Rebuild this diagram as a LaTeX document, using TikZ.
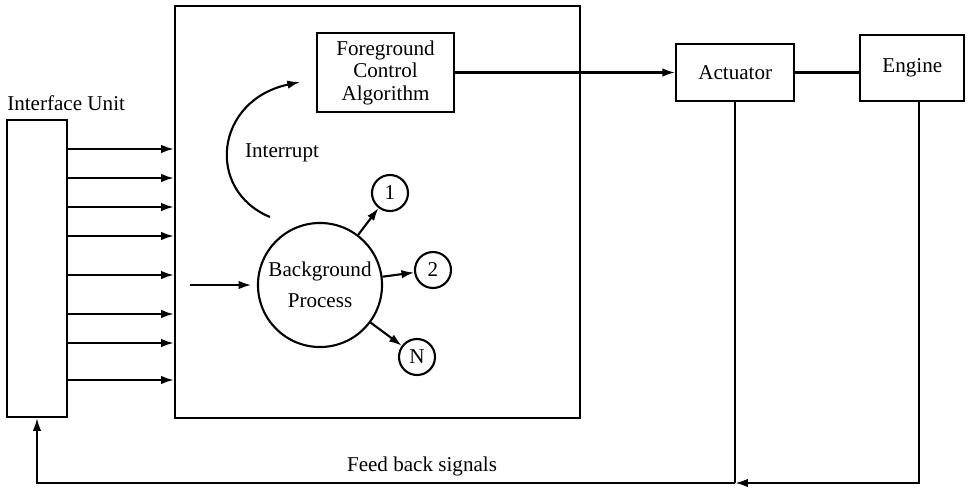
\documentclass[tikz,border=0pt]{standalone}
\usepackage{fontspec}
\setmainfont{Liberation Serif}
\usetikzlibrary{arrows.meta,positioning}

\tikzset{
  blk/.style={draw, line width=1.5pt, inner sep=2pt, align=center},
  proc/.style={circle, draw, line width=1.5pt, inner sep=0pt, align=center},
  sig/.style={line width=1.5pt, -{Latex[length=9pt,width=6pt]}},
  wire/.style={line width=1.5pt},
}

\begin{document}
\begin{tikzpicture}[x=0.025cm, y=-0.025cm, font=\fontsize{15}{16}\selectfont]
  \useasboundingbox (0,0) rectangle (971,488);
  \node[blk, minimum width=1.5cm, minimum height=7.425cm] (iu) at (37,268.5) {};
  \node[anchor=west, inner sep=0pt] (iulbl) at (7,103) {Interface Unit};
  \node[blk, minimum width=10.125cm, minimum height=10.3cm] (main) at (377.5,212) {};
  \node[blk, minimum width=3.425cm, minimum height=1.975cm] (fg) at (385.5,72.5) {Foreground\\Control\\Algorithm};
  \node[blk, minimum width=2.95cm, minimum height=1.425cm, right=5.5cm of fg] (act) {Actuator};
  \node[blk, minimum width=2.6cm, minimum height=1.65cm, right=1.6cm of act, yshift=3pt] (eng) {Engine};
  \node[proc, minimum size=3.1cm] (bg) at (320,285) {Background\\[6pt]Process};
  \node[proc, minimum size=0.9cm] (p1) at (390,193) {1};
  \node[proc, minimum size=0.9cm] (p2) at (433,270) {2};
  \node[proc, minimum size=0.9cm] (pn) at (417,357) {N};
  \node (irq) at (282,153) {Interrupt};
  \node (fbl) at (422,466) {Feed back signals};

  \coordinate (bgin) at (190,285);
  \coordinate (irqa) at (270,217);
  \coordinate (irqb) at (300,82);
  \coordinate (base) at (0,483);
  \coordinate (fbe) at (919,483);

  \foreach \y in {149,178,207,236,275,314,343,380}{
    \coordinate (t) at (0,\y);
    \draw[sig] (iu.east |- t) -- (main.west |- t);
  }
  \draw[sig, shorten >=4pt] (bgin) -- (bg.west);
  \draw[sig] (bg) -- (p1);
  \draw[sig] (bg) -- (p2);
  \draw[sig] (bg) -- (pn);
  \draw[sig] (irqa) .. controls (205,190) and (215,100) .. (irqb);
  \draw[sig] (fg.east) -- (act.west);
  \draw[wire] (act.east) -- (act.east -| eng.west);
  \draw[wire] (act.south) -- (act.south |- base);
  \draw[sig] (eng.south -| fbe) -- (fbe) -- (act.south |- base);
  \draw[sig] (act.south |- base) -| (iu.south);
\end{tikzpicture}
\end{document}
